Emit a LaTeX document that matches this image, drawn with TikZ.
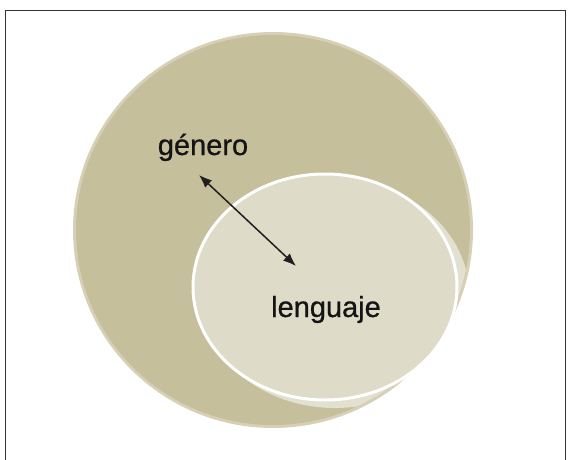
\documentclass[tikz,border=0pt]{standalone}
\usepackage{fontspec}
\setmainfont{Liberation Sans}
\newfontfamily\labelfont[FakeBold=0.7]{Liberation Sans}
\usetikzlibrary{arrows.meta}
\definecolor{outerfill}{RGB}{197,191,156}
\definecolor{outerrim}{RGB}{214,209,182}
\definecolor{innerfill}{RGB}{222,219,201}
\definecolor{glow}{RGB}{226,224,208}
\tikzset{
  frameline/.style={draw=black!80, line width=1.2pt},
  label/.style={font=\labelfont\fontsize{29}{34}\selectfont, text=black!92, inner sep=0pt},
  link/.style={draw=black!88, line width=1.5pt, {Latex[length=13pt,width=10pt]}-{Latex[length=13pt,width=10pt]}}
}
\begin{document}
\begin{tikzpicture}[x=1pt,y=-1pt]
\useasboundingbox (0,0) rectangle (570,460);
\fill[white] (0,0) rectangle (570,460);
% frame
\draw[frameline] (5.5,460) -- (5.5,10.5) -- (565.5,10.5) -- (565.5,460);
% outer circle
\fill[outerrim] (273,230) ellipse [x radius=200, y radius=198];
\fill[outerfill] (273,230) ellipse [x radius=197, y radius=195];
% light crescent
\begin{scope}
  \clip (273,230) ellipse [x radius=197, y radius=195];
  \fill[glow] (335,294) ellipse [x radius=134, y radius=114];
\end{scope}
% inner ellipse
\fill[innerfill, draw=white, line width=3pt] (325,287) ellipse [x radius=132, y radius=113];
% labels
\node[label, anchor=base] (genero) at (203,155) {género};
\node[label, anchor=base] (lenguaje) at (326,317) {lenguaje};
\coordinate (a1) at (199,175);
\coordinate (a2) at (296,266);
\draw[link] (a1) -- (a2);
\end{tikzpicture}
\end{document}
